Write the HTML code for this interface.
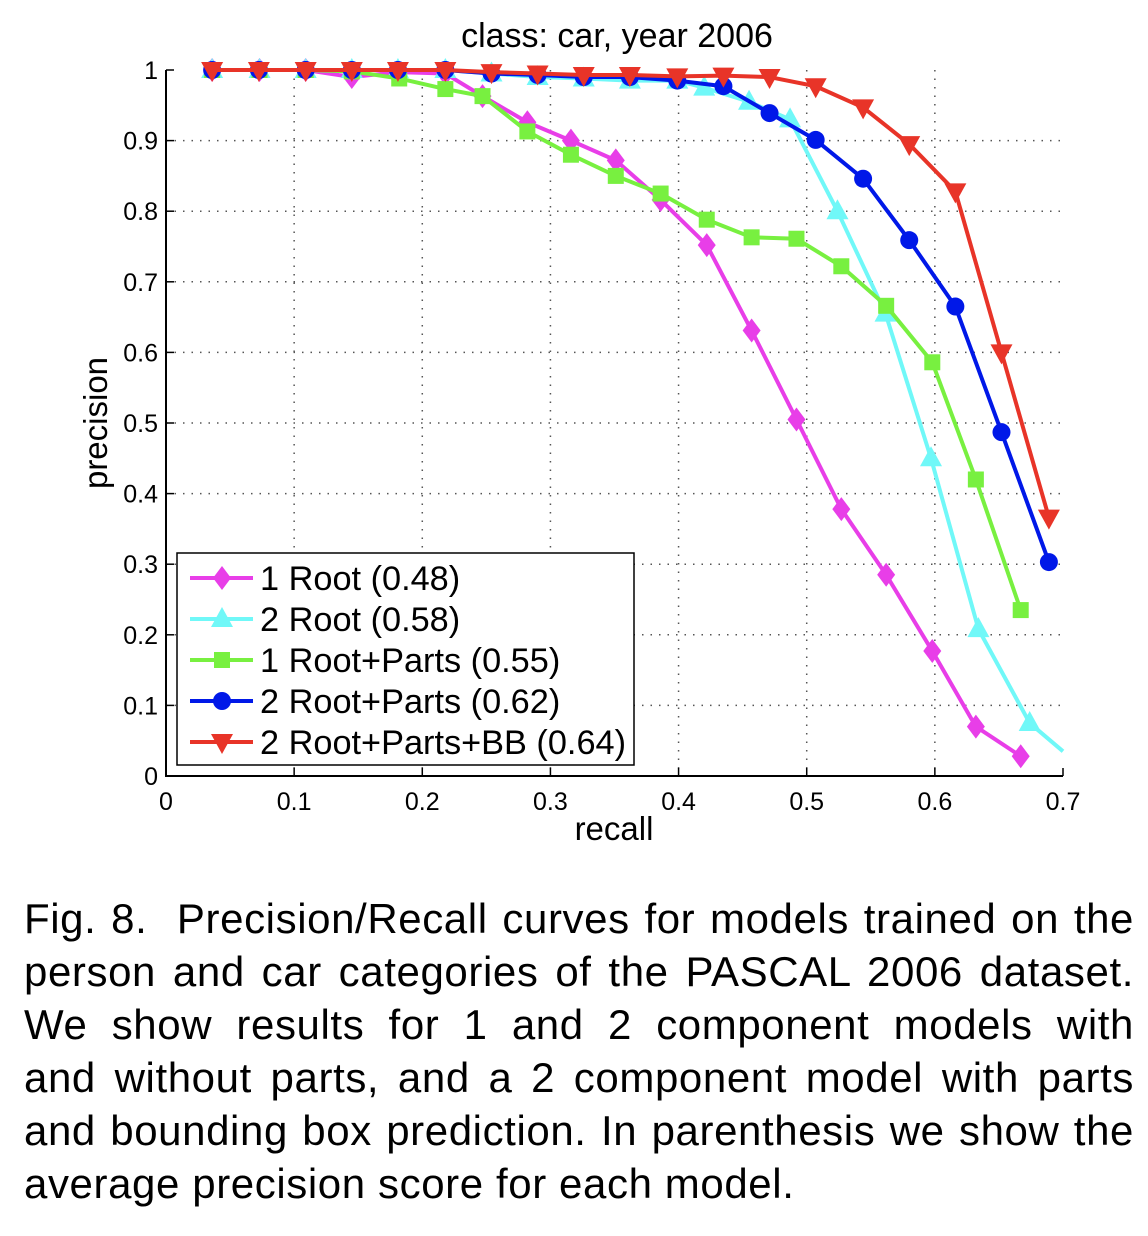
<!DOCTYPE html>
<html><head><meta charset="utf-8"><style>
body{margin:0;background:#fff;width:1148px;height:1236px;overflow:hidden;font-family:"Liberation Sans",Arial,sans-serif}
#cap{position:absolute;left:24px;top:892px;width:1110px;font-size:42px;letter-spacing:0.6px;line-height:53px;color:#000}
#cap div{text-align:justify;text-align-last:justify;white-space:nowrap}
#cap div.last{text-align-last:left}
</style></head><body>
<svg id="chart" width="1148" height="880" style="position:absolute;left:0;top:0" font-family="Liberation Sans, Arial, sans-serif"></svg>
<div id="cap">
<div>Fig. 8.&nbsp; Precision/Recall curves for models trained on the</div>
<div>person and car categories of the PASCAL 2006 dataset.</div>
<div>We show results for 1 and 2 component models with</div>
<div>and without parts, and a 2 component model with parts</div>
<div>and bounding box prediction. In parenthesis we show the</div>
<div class="last">average precision score for each model.</div>
</div>
<script>
const xTicks=[0,0.1,0.2,0.3,0.4,0.5,0.6,0.7];
const yTicks=[0,0.1,0.2,0.3,0.4,0.5,0.6,0.7,0.8,0.9,1];
const names=["1 Root (0.48)","2 Root (0.58)","1 Root+Parts (0.55)","2 Root+Parts (0.62)","2 Root+Parts+BB (0.64)"];
const colors=["#e83ee8","#70f8f8","#78f040","#0018e8","#e83428"];
const markers=["diamond","up","square","circle","down"];
const rootR=[0.036,0.073,0.109,0.145,0.181,0.218,0.247,0.282,0.316,0.351,0.386,0.422,0.457,0.492,0.527,0.562,0.598,0.632,0.667];
const rootP=[1,1,1,0.99,0.997,0.995,0.963,0.926,0.90,0.872,0.816,0.752,0.631,0.505,0.378,0.285,0.177,0.07,0.028];
const root2R=[0.036,0.073,0.109,0.145,0.181,0.218,0.254,0.29,0.326,0.362,0.399,0.42,0.455,0.487,0.524,0.5615,0.597,0.634,0.674,0.7];
const root2P=[1,1,1,1,1,1,0.995,0.99,0.988,0.985,0.985,0.975,0.955,0.93,0.80,0.655,0.45,0.208,0.075,0.035];
const partsR=[0.036,0.073,0.109,0.145,0.182,0.218,0.247,0.282,0.316,0.351,0.386,0.422,0.457,0.492,0.527,0.562,0.598,0.632,0.667];
const partsP=[1,1,1,0.998,0.988,0.973,0.963,0.913,0.88,0.85,0.825,0.788,0.763,0.761,0.722,0.666,0.586,0.42,0.235];
const gridR=[0.036,0.0725,0.109,0.145,0.181,0.218,0.254,0.29,0.326,0.362,0.399,0.435,0.471,0.507,0.544,0.58,0.616,0.652,0.689];
const parts2P=[1,1,1,1,1,1,0.995,0.993,0.99,0.99,0.985,0.977,0.939,0.901,0.846,0.759,0.665,0.487,0.303];
const bbP=[1,1,1,1,1,1,0.997,0.995,0.993,0.993,0.991,0.992,0.99,0.977,0.947,0.895,0.828,0.60,0.366];
const seriesX=[rootR,root2R,partsR,gridR,gridR];
const seriesY=[rootP,root2P,partsP,parts2P,bbP];

const L=166,R=1063,T=70,B=776;
const sx=v=>L+v/0.7*(R-L), sy=v=>B-v*(B-T);
const svg=document.getElementById('chart');
const NS="http://www.w3.org/2000/svg";
function mk(tag,a,parent){const e=document.createElementNS(NS,tag);for(const k in a)e.setAttribute(k,a[k]);(parent||svg).appendChild(e);return e;}
function marker(type,x,y,c,g){
  let e;
  if(type==="diamond")e=mk('polygon',{points:`${x},${y-12} ${x+9},${y} ${x},${y+12} ${x-9},${y}`,fill:c},g);
  else if(type==="up")e=mk('polygon',{points:`${x},${y-12} ${x+11},${y+8} ${x-11},${y+8}`,fill:c},g);
  else if(type==="down")e=mk('polygon',{points:`${x},${y+12} ${x+11},${y-8} ${x-11},${y-8}`,fill:c},g);
  else if(type==="square")e=mk('rect',{x:x-8,y:y-8,width:16,height:16,fill:c},g);
  else e=mk('circle',{cx:x,cy:y,r:9,fill:c},g);
  return e;
}
xTicks.forEach((t,i)=>{const x=sx(t);
  if(i>0&&i<xTicks.length-1){const g=mk('line',{x1:x,y1:T,x2:x,y2:B,stroke:'#555','stroke-width':1.5,'stroke-dasharray':'1.5 7'});}
  mk('line',{x1:x,y1:B,x2:x,y2:B-8,stroke:'#000','stroke-width':1.5});
  const tx=mk('text',{x:x,y:B+34,'text-anchor':'middle','font-size':25});tx.textContent=t;
  });
yTicks.forEach((t,i)=>{const y=sy(t);
  if(i>0&&i<yTicks.length-1){const g=mk('line',{x1:L,y1:y,x2:R,y2:y,stroke:'#555','stroke-width':1.5,'stroke-dasharray':'1.5 7'});}
  mk('line',{x1:L,y1:y,x2:L+8,y2:y,stroke:'#000','stroke-width':1.5});
  const tx=mk('text',{x:L-8,y:y+9,'text-anchor':'end','font-size':25});tx.textContent=t;
  });
const ax=mk('polyline',{points:`${L},${T} ${L},${B} ${R},${B}`,fill:'none',stroke:'#000','stroke-width':2});

seriesY.forEach((ys,s)=>{
  const g=mk('g',{});
  
  const pts=ys.map((v,i)=>sx(seriesX[s][i])+','+sy(v)).join(' ');
  mk('polyline',{points:pts,fill:'none',stroke:colors[s],'stroke-width':4,'stroke-linejoin':'round'},g);
  ys.forEach((v,i)=>{if(s===1&&i===ys.length-1)return;const m=marker(markers[s],sx(seriesX[s][i]),sy(v),colors[s],g);
    });
});
let t=mk('text',{x:617,y:47,'text-anchor':'middle','font-size':34});t.textContent='class: car, year 2006';

t=mk('text',{x:614,y:840,'text-anchor':'middle','font-size':33});t.textContent='recall';

t=mk('text',{x:0,y:0,'text-anchor':'middle','font-size':33,transform:'translate(107,423) rotate(-90)'});t.textContent='precision';

const lg=mk('g',{});

mk('rect',{x:177,y:553,width:457,height:212,fill:'#fff',stroke:'#000','stroke-width':1.5},lg);
names.forEach((n,i)=>{const y=578+i*41;
  const e=mk('g',{},lg);
  
  mk('line',{x1:190,y1:y,x2:253,y2:y,stroke:colors[i],'stroke-width':4},e);
  marker(markers[i],222,y,colors[i],e);
  const tx=mk('text',{x:260,y:y+12,'font-size':34.3},e);tx.textContent=n;});
</script>
</body></html>
